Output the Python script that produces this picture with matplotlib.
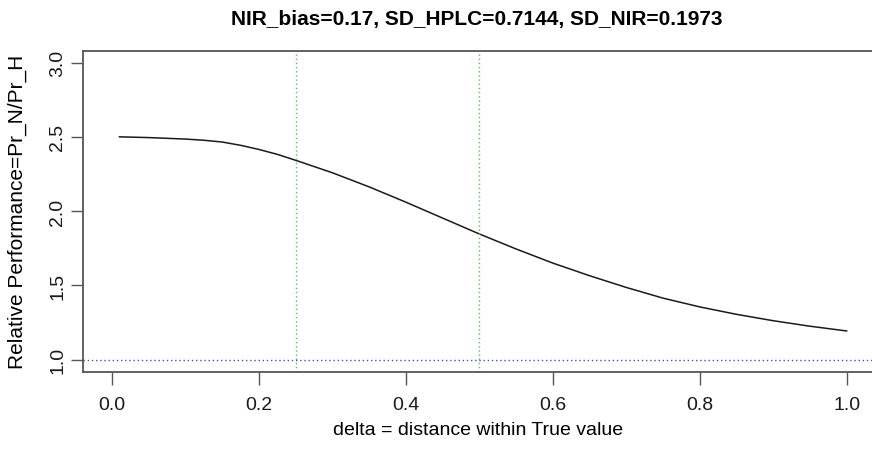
import matplotlib
matplotlib.use("Agg")
import matplotlib.pyplot as plt

# Data
delta = [0.01, 0.05, 0.10, 0.125, 0.15, 0.175, 0.20, 0.225, 0.25, 0.30, 0.35, 0.40, 0.45, 0.50,
         0.55, 0.60, 0.65, 0.70, 0.75, 0.80, 0.85, 0.90, 0.95, 1.00]
rel_perf = [2.500, 2.495, 2.485, 2.477, 2.465, 2.443, 2.415, 2.382, 2.342, 2.258, 2.163, 2.060,
            1.953, 1.846, 1.745, 1.650, 1.565, 1.486, 1.414, 1.355, 1.305, 1.262, 1.225, 1.193]
vlines_x = [0.25, 0.50]
hline_y = 1.0
xticks = [0.0, 0.2, 0.4, 0.6, 0.8, 1.0]
yticks = [1.0, 1.5, 2.0, 2.5, 3.0]
title = "NIR_bias=0.17, SD_HPLC=0.7144, SD_NIR=0.1973"
xlabel = "delta = distance within True value"
ylabel = "Relative Performance=Pr_N/Pr_H"

plt.rcParams['font.family'] = ['Liberation Sans', 'DejaVu Sans']

W, H = 872, 452
fig = plt.figure(figsize=(W / 100, H / 100), dpi=100)
left, right, top, bottom = 82.7, 876, 51.7, 372.5
ax = fig.add_axes([left / W, 1 - bottom / H, (right - left) / W, (bottom - top) / H])

ax.plot(delta, rel_perf, color='#1a1a1a', lw=1.1)
for xv in vlines_x:
    ax.axvline(xv, color='#44cc44', lw=1.0, ls=(0, (1, 2)))
ax.axhline(hline_y, color='#4444ee', lw=1.0, ls=(0, (1, 2)))

ax.set_xlim(-0.04, 1.04)
ax.set_ylim(0.92, 3.08)
ax.set_xticks(xticks)
ax.set_xticklabels([f"{v:.1f}" for v in xticks])
ax.set_yticks(yticks)
ax.set_yticklabels([f"{v:.1f}" for v in yticks], rotation=90, va='center')

for s in ax.spines.values():
    s.set_color('#555555')
    s.set_linewidth(1.3)
ax.tick_params(axis='both', labelcolor='#1a1a1a', color='#555555', labelsize=14,
               length=9, width=1.0, direction='out')
ax.tick_params(axis='x', pad=8.5)
ax.tick_params(axis='y', pad=3)

fig.text(477 / W, 1 - 25 / H, title, fontsize=15, fontweight='bold',
         ha='center', va='baseline')
fig.text(478.5 / W, 1 - 435 / H, xlabel, fontsize=14, ha='center', va='baseline')
fig.text(17.7 / W, 1 - 211.5 / H, ylabel, fontsize=15, rotation=90,
         ha='center', va='center')

fig.savefig("out.png", dpi=100)
